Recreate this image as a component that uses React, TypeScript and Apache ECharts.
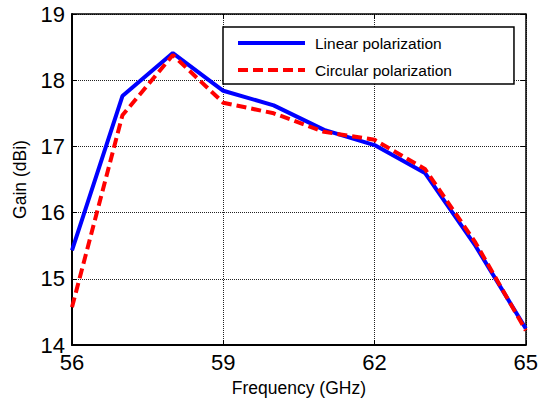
import React, { useEffect, useRef } from "react";
import * as echarts from "echarts";

const frequency = [56, 57, 58, 59, 60, 61, 62, 63, 64, 65];
const linearGain = [15.43, 17.76, 18.41, 17.84, 17.62, 17.25, 17.02, 16.6, 15.5, 14.25];
const circularGain = [14.57, 17.47, 18.38, 17.66, 17.5, 17.22, 17.1, 16.66, 15.55, 14.22];
const xTickValues = [56, 59, 62, 65];
const seriesNames = ["Linear polarization", "Circular polarization"];

export default function App() {
  const ref = useRef<HTMLDivElement>(null);
  useEffect(() => {
    const chart = echarts.init(ref.current!, null, { renderer: "svg" });
    const font = "'Liberation Sans', Arial, sans-serif";
    const splitLine = { show: true, lineStyle: { color: "#222", type: "dotted", width: 1 } };
    chart.setOption({
      animation: false,
      backgroundColor: "#fff",
      textStyle: { fontFamily: font, color: "#000" },
      grid: { left: 72, right: 14, top: 14, bottom: 60, containLabel: false },
      legend: {
        orient: "vertical",
        left: 223,
        top: 27,
        padding: [8, 62, 6, 13],
        itemGap: 11,
        itemWidth: 67,
        itemHeight: 14,
        borderColor: "#000",
        borderWidth: 1.5,
        backgroundColor: "#fff",
        data: seriesNames,
        itemStyle: { opacity: 0 },
        lineStyle: { width: 4 },
        textStyle: { fontFamily: font, fontSize: 15.5, color: "#000", padding: [0, 0, 0, 5] },
      },
      xAxis: [
        {
          type: "value",
          min: 56,
          max: 65,
          name: "Frequency (GHz)",
          nameLocation: "middle",
          nameGap: 34,
          nameTextStyle: { fontFamily: font, fontSize: 17.5, color: "#000" },
          axisLine: { show: true, onZero: false, lineStyle: { color: "#000", width: 2 } },
          axisTick: { show: true, inside: true, length: 5, customValues: xTickValues, lineStyle: { color: "#000" } },
          axisLabel: { customValues: xTickValues, fontFamily: font, fontSize: 22, color: "#000", margin: 6 },
          splitLine,
        },
        {
          type: "value",
          position: "top",
          min: 56,
          max: 65,
          axisLine: { show: true, onZero: false, lineStyle: { color: "#000", width: 1.5 } },
          axisTick: { show: true, inside: true, length: 5, customValues: xTickValues, lineStyle: { color: "#000" } },
          axisLabel: { show: false },
          splitLine: { show: false },
        },
      ],
      yAxis: [
        {
          type: "value",
          min: 14,
          max: 19,
          interval: 1,
          name: "Gain (dBi)",
          nameLocation: "middle",
          nameGap: 43,
          nameTextStyle: { fontFamily: font, fontSize: 17.5, color: "#000" },
          axisLine: { show: true, onZero: false, lineStyle: { color: "#000", width: 2 } },
          axisTick: { show: true, inside: true, length: 5, lineStyle: { color: "#000" } },
          axisLabel: { fontFamily: font, fontSize: 22, color: "#000", margin: 7 },
          splitLine,
        },
        {
          type: "value",
          position: "right",
          min: 14,
          max: 19,
          interval: 1,
          axisLine: { show: true, onZero: false, lineStyle: { color: "#000", width: 1.5 } },
          axisTick: { show: true, inside: true, length: 5, lineStyle: { color: "#000" } },
          axisLabel: { show: false },
          splitLine: { show: false },
        },
      ],
      series: [
        {
          name: seriesNames[0],
          type: "line",
          data: frequency.map((f, i) => [f, linearGain[i]]),
          symbol: "none",
          lineStyle: { color: "#0000ff", width: 4 },
          itemStyle: { color: "#0000ff" },
        },
        {
          name: seriesNames[1],
          type: "line",
          data: frequency.map((f, i) => [f, circularGain[i]]),
          symbol: "none",
          lineStyle: { color: "#ff0000", width: 4, type: [10, 5] },
          itemStyle: { color: "#ff0000" },
        },
      ],
    });
    return () => chart.dispose();
  }, []);
  return (
    <div
      ref={ref}
      style={{ position: "fixed", left: 0, top: 0, width: 541, height: 405, background: "#fff" }}
    />
  );
}
